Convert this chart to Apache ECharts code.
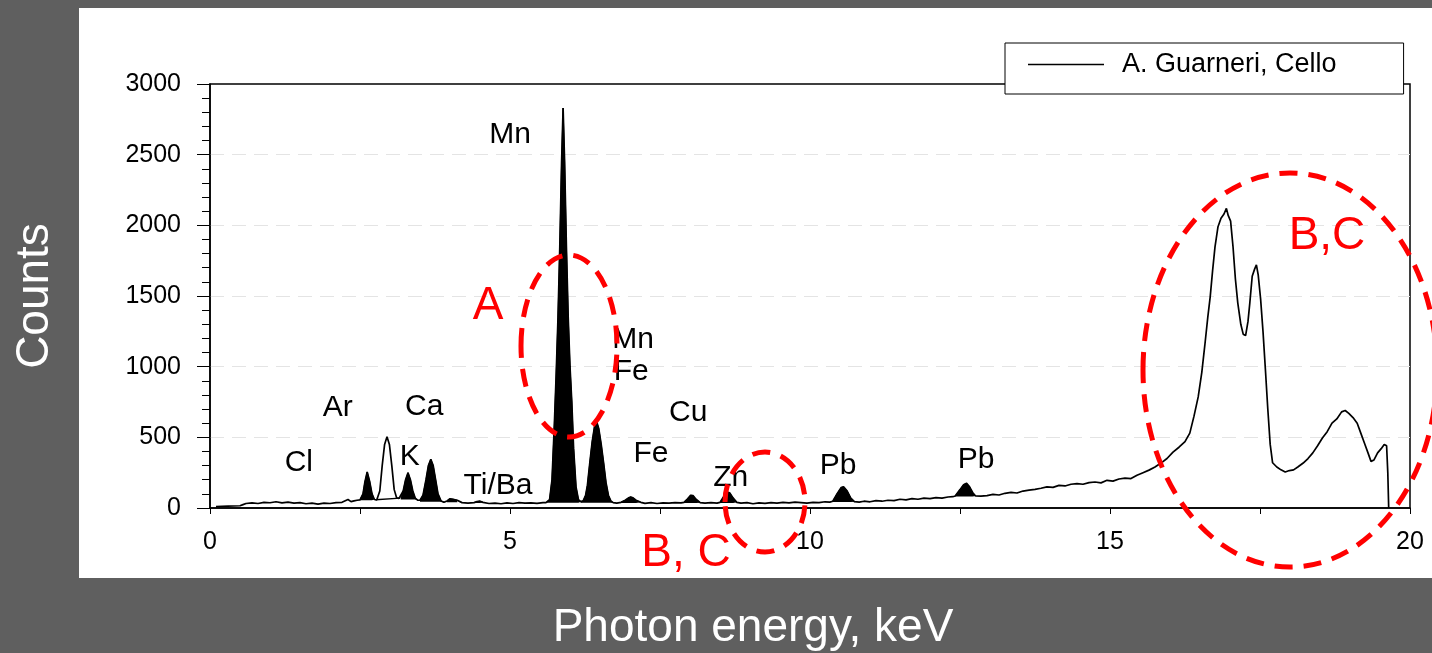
<!DOCTYPE html>
<html>
<head>
<meta charset="utf-8">
<script src="https://cdn.jsdelivr.net/npm/echarts@6/dist/echarts.min.js"></script>
<style>
  html, body { margin: 0; padding: 0; background: #5f5f5f; }
  #xrf { width: 1432px; height: 653px; }
</style>
</head>
<body>
<div id="xrf"></div>
<script>
// spectrum: [keV, counts]
let spectrum = [
  [0.10, 10], [0.20, 12], [0.30, 13], [0.40, 14], [0.50, 16], [0.55, 24], [0.60, 32], [0.70, 36],
  [0.80, 32], [0.90, 40], [1.00, 37], [1.10, 44], [1.20, 36], [1.30, 42], [1.40, 35], [1.50, 38],
  [1.60, 30], [1.70, 34], [1.80, 28], [1.90, 35], [2.00, 32], [2.10, 38], [2.20, 40], [2.30, 60],
  [2.35, 45], [2.40, 50], [2.45, 55],
  [2.50, 58], [2.55, 100], [2.58, 180], [2.62, 255], [2.66, 190], [2.70, 100], [2.74, 60],
  [2.78, 58], [2.83, 120], [2.87, 300], [2.91, 450], [2.95, 505], [2.99, 450], [3.03, 300],
  [3.07, 130], [3.11, 72], [3.15, 68],
  [3.18, 70], [3.22, 120], [3.26, 200], [3.30, 250], [3.34, 200], [3.38, 120], [3.42, 70], [3.46, 55],
  [3.50, 55], [3.55, 90], [3.60, 200], [3.64, 300], [3.68, 345], [3.72, 300], [3.76, 200],
  [3.80, 100], [3.85, 50], [3.90, 40],
  [3.95, 50], [4.00, 65], [4.05, 62], [4.12, 55], [4.20, 38], [4.30, 35], [4.40, 38], [4.45, 45],
  [4.50, 48], [4.55, 40], [4.65, 32], [4.75, 35], [4.85, 30], [4.95, 36], [5.05, 32], [5.15, 38],
  [5.25, 34], [5.35, 36], [5.45, 33], [5.55, 38],
  [5.60, 38], [5.66, 60], [5.70, 200], [5.74, 600], [5.77, 950], [5.80, 1350], [5.83, 1850],
  [5.86, 2450], [5.885, 2830], [5.91, 2450], [5.94, 1850], [5.97, 1350], [6.00, 1000], [6.03, 750],
  [6.06, 420], [6.10, 150], [6.14, 60], [6.18, 45],
  [6.22, 50], [6.26, 90], [6.29, 160], [6.33, 320], [6.37, 470], [6.41, 580], [6.445, 610],
  [6.48, 560], [6.52, 450], [6.56, 320], [6.60, 180], [6.64, 90], [6.68, 50], [6.72, 38], [6.78, 35],
  [6.85, 40], [6.92, 55], [6.97, 70], [7.01, 78], [7.05, 72], [7.10, 55], [7.18, 40],
  [7.25, 33], [7.35, 38], [7.45, 32], [7.55, 36], [7.65, 34], [7.75, 38], [7.85, 36],
  [7.90, 40], [7.96, 65], [8.01, 90], [8.05, 88], [8.10, 62], [8.17, 38],
  [8.25, 34], [8.35, 38], [8.45, 35],
  [8.50, 40], [8.56, 80], [8.62, 112], [8.66, 108], [8.72, 70], [8.78, 40],
  [8.85, 34], [8.95, 38], [9.05, 30], [9.15, 36], [9.25, 33], [9.35, 38], [9.45, 35], [9.55, 40],
  [9.65, 36], [9.75, 42], [9.85, 38], [9.95, 34], [10.05, 40], [10.15, 38], [10.25, 44], [10.33, 42],
  [10.38, 48], [10.45, 100], [10.52, 145], [10.56, 150], [10.62, 120], [10.68, 70], [10.74, 45],
  [10.82, 42], [10.90, 48], [11.00, 44], [11.10, 52], [11.20, 48], [11.30, 55], [11.40, 52],
  [11.50, 62], [11.60, 58], [11.70, 66], [11.80, 62], [11.90, 70], [12.00, 66], [12.10, 74],
  [12.20, 70], [12.30, 78], [12.38, 80],
  [12.42, 85], [12.50, 130], [12.56, 165], [12.61, 175], [12.66, 150], [12.71, 110], [12.76, 85],
  [12.85, 84], [12.95, 88], [13.05, 96], [13.15, 92], [13.25, 104], [13.35, 110], [13.45, 106],
  [13.55, 120], [13.65, 126], [13.75, 132], [13.85, 140], [13.95, 150], [14.05, 146], [14.15, 160],
  [14.25, 156], [14.35, 168], [14.45, 172], [14.55, 168], [14.65, 180], [14.75, 184], [14.85, 178],
  [14.95, 196], [15.05, 190], [15.15, 205], [15.25, 212], [15.35, 208], [15.45, 232], [15.55, 250],
  [15.65, 268], [15.75, 290], [15.85, 318], [15.95, 350], [16.05, 395], [16.15, 430], [16.25, 470],
  [16.33, 530], [16.40, 650], [16.47, 786], [16.53, 960], [16.58, 1150], [16.63, 1350], [16.67, 1494],
  [16.71, 1680], [16.75, 1847], [16.80, 1990], [16.85, 2050], [16.90, 2080], [16.94, 2120],
  [16.97, 2070], [17.01, 2030], [17.05, 1850], [17.09, 1620], [17.13, 1450], [17.18, 1300],
  [17.22, 1230], [17.26, 1220], [17.30, 1320], [17.33, 1450], [17.37, 1640], [17.41, 1690],
  [17.44, 1720], [17.47, 1650], [17.51, 1480], [17.55, 1250], [17.59, 980], [17.63, 700],
  [17.67, 450], [17.71, 320], [17.78, 290], [17.85, 270], [17.92, 255], [17.99, 265], [18.06, 270],
  [18.13, 290], [18.22, 318], [18.30, 350], [18.38, 390], [18.46, 440], [18.54, 495], [18.62, 540],
  [18.70, 600], [18.78, 630], [18.86, 680], [18.92, 690], [18.98, 670], [19.05, 640], [19.12, 600],
  [19.18, 530], [19.24, 460], [19.30, 390], [19.35, 330], [19.40, 340], [19.46, 390], [19.52, 420],
  [19.57, 450], [19.61, 440], [19.63, 250], [19.645, 0]
];

// filled peaks: [from keV, to keV, background counts]
let filledPeaks = [
  [2.48, 2.76, 55], [3.16, 3.48, 60], [3.48, 3.92, 45], [3.92, 4.18, 40], [4.40, 4.60, 35],
  [5.58, 6.20, 38], [6.18, 6.74, 38], [6.84, 7.20, 35], [7.88, 8.19, 35], [8.48, 8.80, 35],
  [10.36, 10.76, 42], [12.40, 12.78, 82]
];

// background line drawn under the Ar peak
let arBackground = [[2.76, 58], [3.17, 70]];

// element labels: [keV, counts, text]
let elementLabels = [
  [5.0, 2639, 'Mn'], [7.05, 1189, 'Mn'], [7.02, 962, 'Fe'], [7.97, 672, 'Cu'], [7.35, 382, 'Fe'],
  [8.68, 212, 'Zn'], [10.47, 297, 'Pb'], [12.77, 340, 'Pb'], [2.13, 708, 'Ar'], [3.57, 715, 'Ca'],
  [1.48, 318, 'Cl'], [3.33, 361, 'K'], [4.8, 156, 'Ti/Ba']
];

let seriesName = 'A. Guarneri, Cello';
let xTicks = [0, 20, 5];
let yTicks = [0, 3000, 500];

let myChart = echarts.init(document.getElementById('xrf'));

let peakSeries = filledPeaks.map(function (p) {
  return {
    type: 'line',
    symbol: 'none',
    silent: true,
    data: spectrum.filter(function (d) { return d[0] >= p[0] && d[0] <= p[1]; }),
    lineStyle: { color: '#000', width: 1 },
    areaStyle: { color: '#000', opacity: 1, origin: p[2] },
    z: 3
  };
});

let option = {
  backgroundColor: '#5f5f5f',
  animation: false,
  textStyle: { fontFamily: 'Liberation Sans, Arial, sans-serif' },
  grid: {
    left: 210, right: 22, top: 84, bottom: 145,
    show: true, borderColor: '#000', borderWidth: 1.5,
    outerBoundsMode: 'none'
  },
  legend: {
    data: [{ name: seriesName, icon: 'rect' }],
    left: 1005, top: 43,
    backgroundColor: '#fff',
    borderColor: '#000', borderWidth: 1,
    padding: [8, 67, 16, 23],
    itemWidth: 76, itemHeight: 1.5,
    textStyle: { fontSize: 27, color: '#000', padding: [0, 0, 0, 13] }
  },
  xAxis: {
    type: 'value',
    min: xTicks[0], max: xTicks[1], interval: xTicks[2],
    axisLine: { lineStyle: { color: '#000', width: 1.5 } },
    axisTick: { length: 6, lineStyle: { color: '#000' } },
    minorTick: { show: true, splitNumber: 2, length: 6, lineStyle: { color: '#000' } },
    axisLabel: { fontSize: 25, color: '#000', margin: 22 },
    splitLine: { show: false }
  },
  yAxis: {
    type: 'value',
    min: yTicks[0], max: yTicks[1], interval: yTicks[2],
    axisLine: { show: true, lineStyle: { color: '#000', width: 1.5 } },
    axisTick: { show: true, length: 13, lineStyle: { color: '#000' } },
    minorTick: { show: true, splitNumber: 5, length: 8, lineStyle: { color: '#000' } },
    axisLabel: { fontSize: 25, color: '#000', margin: 29, formatter: function (v) { return String(v); } },
    splitLine: {
      show: true, showMinLine: false, showMaxLine: false,
      lineStyle: { color: '#e4e4e4', type: [14, 8], width: 1 }
    }
  },
  graphic: [
    { type: 'rect', z: -10, shape: { x: 79, y: 8, width: 1353, height: 570 }, style: { fill: '#fff' } },
    { type: 'text', x: 35, y: 296, rotation: Math.PI / 2,
      style: { text: 'Counts', fill: '#fff', font: '46px Liberation Sans, Arial, sans-serif', align: 'center', verticalAlign: 'middle' } },
    { type: 'text', x: 753, y: 628,
      style: { text: 'Photon energy, keV', fill: '#fff', font: '46px Liberation Sans, Arial, sans-serif', align: 'center', verticalAlign: 'middle' } },
    { type: 'ellipse', z: 100, shape: { cx: 569, cy: 346, rx: 48, ry: 91 },
      style: { fill: null, stroke: '#ff0000', lineWidth: 5, lineDash: [18, 11] } },
    { type: 'ellipse', z: 100, shape: { cx: 765, cy: 502, rx: 40, ry: 50 },
      style: { fill: null, stroke: '#ff0000', lineWidth: 5, lineDash: [18, 11] } },
    { type: 'ellipse', z: 100, shape: { cx: 1290, cy: 370, rx: 147, ry: 197 },
      style: { fill: null, stroke: '#ff0000', lineWidth: 5, lineDash: [18, 11] } },
    { type: 'text', z: 100, x: 488, y: 306,
      style: { text: 'A', fill: '#ff0000', font: '46px Liberation Sans, Arial, sans-serif', align: 'center', verticalAlign: 'middle' } },
    { type: 'text', z: 100, x: 1327, y: 236,
      style: { text: 'B,C', fill: '#ff0000', font: '46px Liberation Sans, Arial, sans-serif', align: 'center', verticalAlign: 'middle' } },
    { type: 'text', z: 100, x: 686, y: 553,
      style: { text: 'B, C', fill: '#ff0000', font: '46px Liberation Sans, Arial, sans-serif', align: 'center', verticalAlign: 'middle' } }
  ],
  series: [
    {
      name: seriesName,
      type: 'line',
      symbol: 'none',
      data: spectrum,
      lineStyle: { color: '#000', width: 1.7 },
      itemStyle: { color: '#000' },
      z: 4
    },
    {
      type: 'line',
      symbol: 'none',
      silent: true,
      data: arBackground,
      lineStyle: { color: '#000', width: 1.4 },
      z: 4
    },
    {
      type: 'scatter',
      symbolSize: 0,
      silent: true,
      itemStyle: { opacity: 1 },
      data: elementLabels.map(function (e) { return { value: [e[0], e[1]], name: e[2] }; }),
      label: {
        show: true, position: 'inside', formatter: '{b}',
        fontSize: 30, color: '#000', opacity: 1, fontFamily: 'Liberation Sans, Arial, sans-serif'
      },
      z: 5
    }
  ].concat(peakSeries)
};

myChart.setOption(option);
</script>
</body>
</html>
